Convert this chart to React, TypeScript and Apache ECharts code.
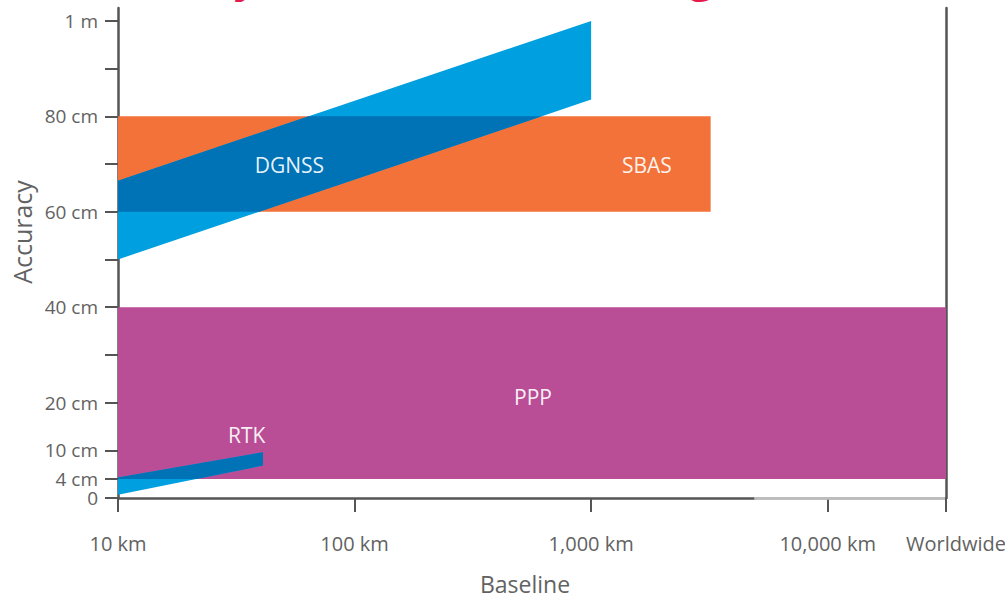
import React, { useEffect, useRef } from "react";
import * as echarts from "echarts";

// Axis ticks and labels
const xTickValues = [10, 100, 1000, 10000, 31623];
const xTickLabels = ["10 km", "100 km", "1,000 km", "10,000 km", "Worldwide"];
const yTickValues = [0, 4, 10, 20, 30, 40, 50, 60, 70, 80, 90, 100];
const yLabelValues = [0, 4, 10, 20, 40, 60, 80, 100];
const yLabelTexts = ["0", "4 cm", "10 cm", "20 cm", "40 cm", "60 cm", "80 cm", "1 m"];

// Technique bands: [baseline km, accuracy cm]
const pppBand = [[10, 4], [31623, 4], [31623, 40], [10, 40]];
const sbasBand = [[10, 60], [3200, 60], [3200, 80], [10, 80]];
const dgnssBand = [[10, 50], [1000, 83.5], [1000, 100], [10, 66.5]];
const rtkBand = [[10, 0.7], [41, 6.8], [41, 9.6], [10, 4.3]];

// Technique names and their label anchors [km, cm]
const techNames = ["DGNSS", "SBAS", "PPP", "RTK"];
const techLabelAnchors = [[53, 69.8], [1720, 69.8], [568, 21.2], [35, 13.2]];

const titleText = "Accuracy versus baseline length";
const axisFadeStart = 4900;

const GRAY = "#626262";
const FONT = '"Open Sans", "Noto Sans", sans-serif';

type P = number[];

function clipPoly(poly: P[], xmin: number, xmax: number, ymin: number, ymax: number): P[] {
  const edges: [(p: P) => boolean, (a: P, b: P) => P][] = [
    [(p) => p[0] >= xmin, (a, b) => { const t = (xmin - a[0]) / (b[0] - a[0]); return [xmin, a[1] + t * (b[1] - a[1])]; }],
    [(p) => p[0] <= xmax, (a, b) => { const t = (xmax - a[0]) / (b[0] - a[0]); return [xmax, a[1] + t * (b[1] - a[1])]; }],
    [(p) => p[1] >= ymin, (a, b) => { const t = (ymin - a[1]) / (b[1] - a[1]); return [a[0] + t * (b[0] - a[0]), ymin]; }],
    [(p) => p[1] <= ymax, (a, b) => { const t = (ymax - a[1]) / (b[1] - a[1]); return [a[0] + t * (b[0] - a[0]), ymax]; }],
  ];
  let out = poly;
  for (const [inside, inter] of edges) {
    const input = out;
    out = [];
    if (!input.length) break;
    for (let i = 0; i < input.length; i++) {
      const cur = input[i];
      const prev = input[(i + input.length - 1) % input.length];
      const ci = inside(cur);
      const pi = inside(prev);
      if (ci) {
        if (!pi) out.push(inter(prev, cur));
        out.push(cur);
      } else if (pi) {
        out.push(inter(prev, cur));
      }
    }
  }
  return out;
}

function bandSeries(band: number[][], color: string, z: number) {
  return {
    type: "custom",
    coordinateSystem: "cartesian2d",
    z,
    silent: true,
    data: [band[0]],
    renderItem: (_p: any, api: any) => ({
      type: "polygon",
      shape: { points: band.map((pt) => api.coord(pt)) },
      style: { fill: color },
    }),
  };
}

function overlapSeries(band: number[][], rectBand: number[][], color: string, z: number) {
  return {
    type: "custom",
    coordinateSystem: "cartesian2d",
    z,
    silent: true,
    data: [band[0]],
    renderItem: (_p: any, api: any) => {
      const pts = band.map((pt) => api.coord(pt));
      const r = rectBand.map((pt) => api.coord(pt));
      const xs = r.map((p: P) => p[0]);
      const ys = r.map((p: P) => p[1]);
      const clipped = clipPoly(pts, Math.min(...xs), Math.max(...xs), Math.min(...ys), Math.max(...ys));
      return {
        type: "polygon",
        shape: { points: clipped },
        style: { fill: color },
      };
    },
  };
}

export default function App() {
  const ref = useRef<HTMLDivElement>(null);
  useEffect(() => {
    document.body.style.margin = "0";
    const chart = echarts.init(ref.current!, null, { renderer: "svg" });
    const option: any = {
      animation: false,
      backgroundColor: "#ffffff",
      grid: { left: 118, right: 59, top: 8, bottom: 97, containLabel: false, outerBoundsMode: "none" },
      xAxis: {
        type: "log",
        logBase: 10,
        min: 10,
        max: 31623,
        axisLine: { show: true, lineStyle: { color: "#555", width: 2.5 } },
        axisTick: { show: true, length: 14, lineStyle: { color: "#555", width: 2 } },
        splitLine: { show: false },
        minorTick: { show: false },
        axisLabel: {
          show: true,
          showMinLabel: true,
          showMaxLabel: true,
          hideOverlap: false,
          margin: 35,
          color: GRAY,
          fontFamily: FONT,
          fontSize: 20,
          rich: {
            w: { color: GRAY, fontFamily: FONT, fontSize: 20, padding: [0, 0, 0, 20] },
          },
          formatter: (v: number) => {
            let best = 0;
            let bd = Infinity;
            xTickValues.forEach((t, i) => {
              const d = Math.abs(Math.log10(t) - Math.log10(v));
              if (d < bd) { bd = d; best = i; }
            });
            return best === xTickValues.length - 1 ? `{w|${xTickLabels[best]}}` : xTickLabels[best];
          },
        },
      },
      yAxis: [
        {
          type: "value",
          min: 0,
          max: 102.7,
          axisLine: { show: true, lineStyle: { color: "#555", width: 2.5 } },
          axisTick: { show: true, length: 13, customValues: yTickValues, lineStyle: { color: "#555", width: 2 } },
          splitLine: { show: false },
          axisLabel: {
            show: true,
            showMinLabel: true,
            showMaxLabel: true,
            hideOverlap: false,
            customValues: yLabelValues,
            margin: 20,
            color: GRAY,
            fontFamily: FONT,
            fontSize: 19,
            lineHeight: 17,
            formatter: (v: number) => {
              const i = yLabelValues.indexOf(Math.round(v));
              return i >= 0 ? yLabelTexts[i] : "";
            },
          },
        },
        {
          type: "value",
          position: "right",
          min: 0,
          max: 102.7,
          axisLine: { show: true, onZero: false, lineStyle: { color: "#555", width: 2.5 } },
          axisTick: { show: false },
          axisLabel: { show: false },
          splitLine: { show: false },
        },
      ],
      graphic: [
        {
          type: "text",
          x: 60,
          y: -26,
          silent: true,
          style: {
            text: titleText,
            fill: "#e5194a",
            font: `bold 44px ${FONT}`,
            verticalAlign: "middle",
            align: "left",
          },
        },
        {
          type: "text",
          x: 22,
          y: 232,
          rotation: Math.PI / 2,
          silent: true,
          style: {
            text: "Accuracy",
            fill: GRAY,
            font: `25px ${FONT}`,
            align: "center",
            verticalAlign: "middle",
          },
        },
        {
          type: "text",
          x: 525,
          y: 584,
          silent: true,
          style: {
            text: "Baseline",
            fill: GRAY,
            font: `23px ${FONT}`,
            lineHeight: 20,
            align: "center",
            verticalAlign: "middle",
          },
        },
      ],
      series: [
        bandSeries(pppBand, "#b94e96", 2),
        bandSeries(sbasBand, "#f3723a", 3),
        bandSeries(dgnssBand, "#009fdf", 4),
        overlapSeries(dgnssBand, sbasBand, "#0072b6", 5),
        bandSeries(rtkBand, "#009fdf", 6),
        overlapSeries(rtkBand, pppBand, "#0072b6", 7),
        {
          type: "custom",
          coordinateSystem: "cartesian2d",
          z: 8,
          silent: true,
          data: [[axisFadeStart, 0]],
          renderItem: (_p: any, api: any) => {
            const a = api.coord([axisFadeStart, 0]);
            const b = api.coord([xTickValues[xTickValues.length - 1], 0]);
            return {
              type: "group",
              children: [
                { type: "line", shape: { x1: a[0], y1: a[1], x2: b[0] - 1, y2: b[1] }, style: { stroke: "#fff", lineWidth: 3 } },
                { type: "line", shape: { x1: a[0], y1: a[1], x2: b[0] - 1, y2: b[1] }, style: { stroke: "#7a7a7a", lineWidth: 1.2 } },
              ],
            };
          },
        },
        {
          type: "custom",
          coordinateSystem: "cartesian2d",
          z: 10,
          silent: true,
          data: techLabelAnchors.map((c, i) => ({ value: c, name: techNames[i] })),
          renderItem: (params: any, api: any) => {
            const p = api.coord([api.value(0), api.value(1)]);
            return {
              type: "text",
              x: p[0],
              y: p[1],
              style: {
                text: techNames[params.dataIndex],
                fill: "rgba(255,255,255,0.93)",
                font: `21px ${FONT}`,
                align: "center",
                verticalAlign: "middle",
              },
            };
          },
        },
      ],
    };
    chart.setOption(option);
    return () => chart.dispose();
  }, []);
  return <div ref={ref} style={{ width: 1005, height: 595 }} />;
}
